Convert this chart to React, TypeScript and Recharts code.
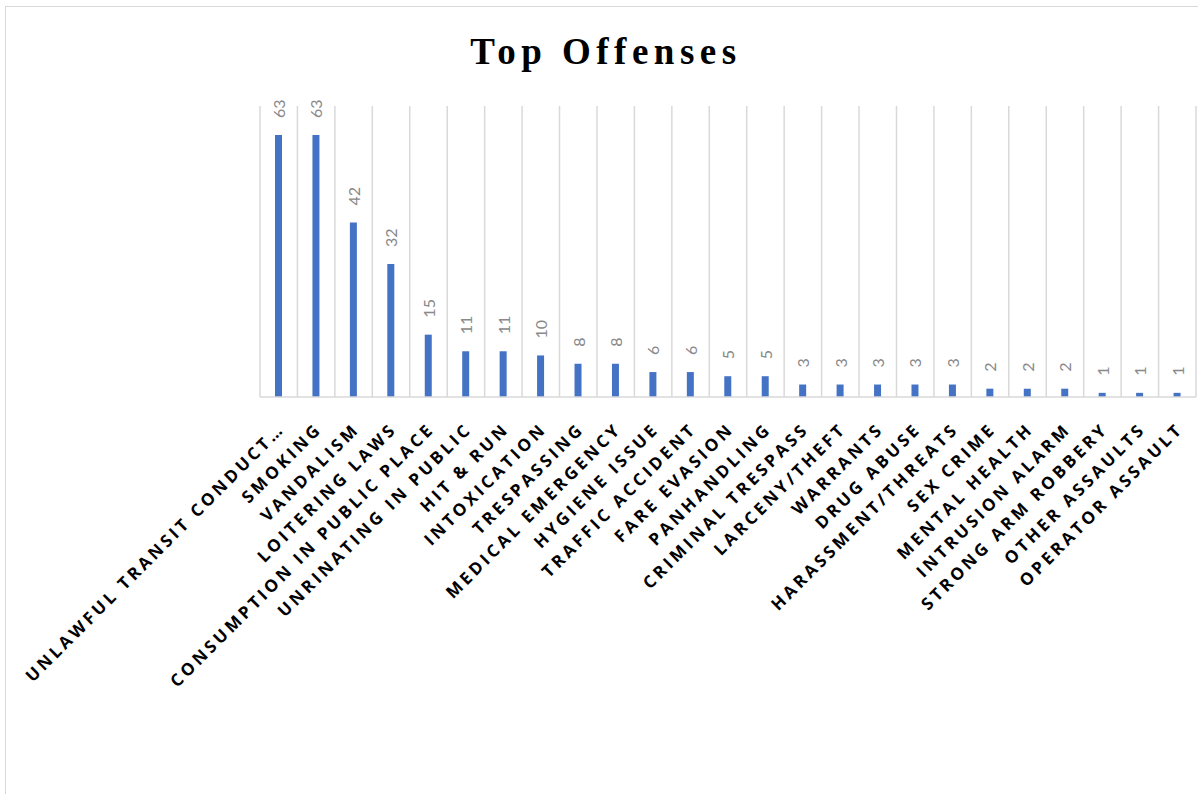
import React from 'react';
import { BarChart, Bar, XAxis, YAxis, CartesianGrid, LabelList } from 'recharts';

const offenses = [
  'UNLAWFUL TRANSIT CONDUCT…', 'SMOKING', 'VANDALISM', 'LOITERING LAWS',
  'CONSUMPTION IN PUBLIC PLACE', 'UNRINATING IN PUBLIC', 'HIT & RUN', 'INTOXICATION',
  'TRESPASSING', 'MEDICAL EMERGENCY', 'HYGIENE ISSUE', 'TRAFFIC ACCIDENT',
  'FARE EVASION', 'PANHANDLING', 'CRIMINAL TRESPASS', 'LARCENY/THEFT',
  'WARRANTS', 'DRUG ABUSE', 'HARASSMENT/THREATS', 'SEX CRIME',
  'MENTAL HEALTH', 'INTRUSION ALARM', 'STRONG ARM ROBBERY', 'OTHER ASSAULTS',
  'OPERATOR ASSAULT',
];
const counts = [63, 63, 42, 32, 15, 11, 11, 10, 8, 8, 6, 6, 5, 5, 3, 3, 3, 3, 3, 2, 2, 2, 1, 1, 1];
const yDomain = [0, 70];

const data = offenses.map((name, i) => ({ name, count: counts[i] }));

const OffenseTick = (props: any) => {
  const { x, y, payload } = props;
  const tx = x + 7;
  const ty = y + 25;
  return (
    <text
      x={tx}
      y={ty}
      transform={`rotate(-45, ${tx}, ${ty})`}
      textAnchor="end"
      fontFamily="'Open Sans', sans-serif"
      fontWeight={700}
      fontSize={17}
      letterSpacing={3.3}
      fill="#000"
    >
      {payload.value}
    </text>
  );
};

const CountLabel = (props: any) => {
  const { x, y, width, value } = props;
  const cx = x + width / 2;
  const ly = y - 17;
  return (
    <text
      x={cx}
      y={ly}
      transform={`rotate(-90, ${cx}, ${ly})`}
      textAnchor="start"
      dominantBaseline="central"
      fontFamily="Lato, sans-serif"
      fontSize={16}
      fill="#898989"
    >
      {value}
    </text>
  );
};

const App: React.FC = () => {
  const gridLines = ({ offset }: any) => {
    const step = offset.width / offenses.length;
    return offenses.map((_, i) => offset.left + i * step).concat(offset.left + offset.width);
  };

  return (
    <div style={{ position: 'absolute', left: 0, top: 0, width: 1198, height: 794, overflow: 'hidden', background: '#fff' }}>
      <div style={{ position: 'absolute', left: 5, top: 6, width: 1210, height: 810, border: '1px solid #d9d9d9', boxSizing: 'border-box' }} />
      <div
        style={{
          position: 'absolute', left: 0, top: 30, width: 1212, textAlign: 'center',
          fontFamily: "'Liberation Serif', serif", fontWeight: 700, fontSize: 37, letterSpacing: 5.5, color: '#000',
        }}
      >
        Top Offenses
      </div>
      <div style={{ position: 'absolute', left: 0, top: 0 }}>
        <BarChart width={1198} height={794} data={data} margin={{ top: 106, right: 2, left: 260, bottom: 0 }}>
          <CartesianGrid horizontal={false} stroke="#d9d9d9" strokeWidth={1.5} verticalCoordinatesGenerator={gridLines} />
          <XAxis
            dataKey="name"
            interval={0}
            height={397}
            tickLine={false}
            axisLine={{ stroke: '#d9d9d9', strokeWidth: 1.5 }}
            tick={<OffenseTick />}
          />
          <YAxis hide domain={yDomain} />
          <Bar dataKey="count" fill="#4472C4" barSize={7} isAnimationActive={false}>
            <LabelList dataKey="count" content={<CountLabel />} />
          </Bar>
        </BarChart>
      </div>
    </div>
  );
};

export default App;
